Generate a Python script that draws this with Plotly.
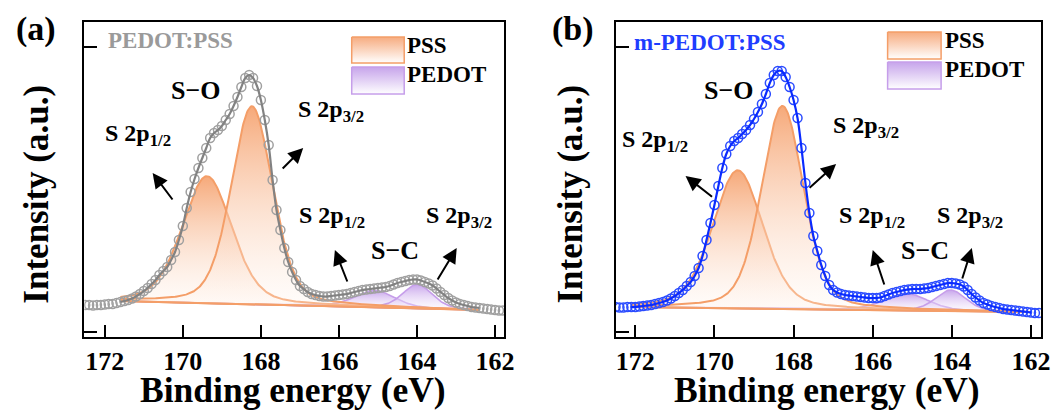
import numpy as np
import plotly.graph_objects as go

W, H = 1059, 413
FONT = "Liberation Serif"

# ---------------- data ----------------
# binding energy of the sampled data points (eV), 172.5 ... 161.8 in 0.1 eV steps
energy = [round(172.5 - 0.1 * i, 1) for i in range(108)]

# (a) PEDOT:PSS measured intensity (a.u.)
intensity_a = [
    27, 27, 26.5, 27, 27, 27.5, 28, 28, 29, 30,
    31, 32, 33.5, 35.5, 38, 41, 44, 48, 52, 57,
    61, 65, 72, 80, 92, 106, 124, 140, 153, 164,
    174, 184, 194, 199, 202, 206, 212, 218, 226, 235,
    245, 254, 257, 254, 246, 232, 212, 187, 152, 122,
    102, 84, 70, 60, 52, 46, 43, 40, 38, 37,
    36, 35.5, 35.5, 36, 36.5, 37, 37.5, 38, 39, 40,
    41, 42, 42.5, 43, 43.5, 44, 44.5, 45, 46, 47.5,
    49, 50, 51, 52, 52.5, 52.5, 51.5, 50, 48.5, 46.5,
    43.5, 40, 37, 34, 31.5, 29.5, 28, 27, 26, 25,
    24.5, 24, 23.5, 23, 22.5, 22, 21.5, 21.5,
]

# (b) m-PEDOT:PSS measured intensity (a.u.)
intensity_b = [
    25, 24.5, 24.5, 25, 25, 25, 25.5, 26, 26.5, 27,
    28, 29, 30, 31.5, 33.5, 36, 39, 42, 46, 50,
    56, 64, 76, 92, 109, 127, 146, 164, 178, 186,
    191, 194, 198, 202, 207, 213, 220, 228, 238, 249,
    257, 261, 261, 255, 245, 232, 214, 184, 149, 119,
    96, 81, 67, 56, 47, 42, 39.5, 38, 37, 36.5,
    36, 35.5, 35, 34.5, 34, 34, 34, 34.5, 36, 37.5,
    39, 40, 41, 42, 42.5, 43, 43, 43, 43.5, 44,
    45, 46, 47, 48, 49, 49, 48.5, 47.5, 45.5, 42,
    38, 34.5, 31.5, 29, 27.5, 26, 25, 24, 23, 22.5,
    22, 21.5, 21, 20.5, 20, 19.5, 19, 19,
]

# fit window and linear background (eV, intensity)
fit_a = [171.6, 162.4]
background_a = [31, 22]
fit_b = [172.1, 162.0]
background_b = [25, 20]

# fitted components: [S 2p3/2, S 2p1/2]
pss_center_a = [168.23, 169.38]
pss_fwhm_a = [1.25, 1.5]
pss_height_a = [198, 127]
pedot_center_a = [163.99, 165.08]
pedot_fwhm_a = [0.9, 1.2]
pedot_height_a = [24, 17]

pss_center_b = [168.28, 169.41]
pss_fwhm_b = [1.25, 1.5]
pss_height_b = [203, 138]
pedot_center_b = [164.03, 165.15]
pedot_fwhm_b = [0.9, 1.3]
pedot_height_b = [21, 17]

lorentz_fraction = 0.3

xticks = [172, 170, 168, 166, 164, 162]


# ---------------- helpers ----------------
def pseudo_voigt(E, c, w, h, m=lorentz_fraction):
    d2 = 4.0 * (E - c) ** 2 / w ** 2
    return h * ((1 - m) * np.exp(-np.log(2) * d2) + m / (1.0 + d2))


def px(x):
    return x / W


def py(y):
    return 1 - y / H


PSS_LINE = "rgb(244,158,104)"
PSS_SCALE = [[0, "rgba(255,246,240,0.25)"], [1, "rgba(244,150,92,0.82)"]]
PEDOT_LINE = "rgb(198,158,234)"
PEDOT_SCALE = [[0, "rgba(248,240,253,0.3)"], [1, "rgba(190,150,232,0.85)"]]

fig = go.Figure()


def add_panel(xa, ya, fit, bg, pss, pedot, inten, circ_col, line_col):
    Eg = np.linspace(fit[0], fit[1], 500)
    base = np.interp(Eg, fit[::-1], bg[::-1])
    comps = []
    for c, w, h in zip(*pss):
        comps.append((c, w, h, PSS_LINE, PSS_SCALE, 2))
    for c, w, h in zip(*pedot):
        comps.append((c, w, h, PEDOT_LINE, PEDOT_SCALE, 1.6))
    for c, w, h, lc, sc, lw in comps[::-1]:
        y = base + pseudo_voigt(Eg, c, w, h)
        fig.add_trace(go.Scatter(
            x=np.concatenate([Eg, Eg[::-1]]),
            y=np.concatenate([y, base[::-1]]),
            mode="lines", fill="toself",
            line=dict(color=lc, width=lw),
            fillgradient=dict(type="vertical", colorscale=sc),
            xaxis=xa, yaxis=ya, showlegend=False, hoverinfo="skip"))
    fig.add_trace(go.Scatter(
        x=energy, y=inten, mode="markers",
        marker=dict(symbol="circle-open", size=9, color=circ_col,
                    line=dict(width=1.5, color=circ_col)),
        xaxis=xa, yaxis=ya, showlegend=False))
    ex = [e for e in energy if fit[1] <= e <= fit[0]]
    ey = [v for e, v in zip(energy, inten) if fit[1] <= e <= fit[0]]
    fig.add_trace(go.Scatter(
        x=ex, y=ey, mode="lines", line=dict(color=line_col, width=2.2, shape="spline"),
        xaxis=xa, yaxis=ya, showlegend=False))


add_panel("x", "y", fit_a, background_a,
          (pss_center_a, pss_fwhm_a, pss_height_a),
          (pedot_center_a, pedot_fwhm_a, pedot_height_a),
          intensity_a, "#a0a0a0", "#828282")
add_panel("x2", "y2", fit_b, background_b,
          (pss_center_b, pss_fwhm_b, pss_height_b),
          (pedot_center_b, pedot_fwhm_b, pedot_height_b),
          intensity_b, "#2b4cff", "#0a2bff")

# legend patches on a pixel canvas (x3/y3)
legend_patches = [
    (347, 400, 29, 55, PSS_LINE, "rgba(246,168,122,0.95)"),
    (347, 400, 59, 86, PEDOT_LINE, "rgba(196,160,234,0.95)"),
    (888, 942, 24, 51, PSS_LINE, "rgba(246,168,122,0.95)"),
    (888, 942, 54, 81, PEDOT_LINE, "rgba(196,160,234,0.95)"),
]
for x0, x1, y0, y1, lc, top in legend_patches:
    fig.add_trace(go.Scatter(
        x=[x0, x1, x1, x0, x0], y=[y0, y0, y1, y1, y0], mode="lines", fill="toself",
        line=dict(color=lc, width=1.5),
        fillgradient=dict(type="vertical", start=y0, stop=y1,
                          colorscale=[[0, top], [1, "rgba(255,255,255,1)"]]),
        xaxis="x3", yaxis="y3", showlegend=False, hoverinfo="skip"))

axis_common = dict(showline=True, linewidth=2, linecolor="black", mirror=True,
                   showgrid=False, zeroline=False, ticks="inside", tickwidth=2,
                   tickcolor="black")
xtick_font = dict(family=FONT, size=26, color="black", weight="bold")

fig.update_layout(
    width=W, height=H, margin=dict(l=0, r=0, t=0, b=0),
    paper_bgcolor="white", plot_bgcolor="rgba(0,0,0,0)",
    xaxis=dict(domain=[px(77), px(501)], range=[172.525, 161.764], anchor="y",
               tickvals=xticks, ticklen=12, tickfont=xtick_font, **axis_common),
    yaxis=dict(domain=[py(329), py(14)], range=[-5, 310], anchor="x",
               tickvals=[0, 285], ticklen=13, showticklabels=False, **axis_common),
    xaxis2=dict(domain=[px(613.3), px(1043.3)], range=[172.50, 161.735], anchor="y2",
                tickvals=xticks, ticklen=12, tickfont=xtick_font, **axis_common),
    yaxis2=dict(domain=[py(329), py(14)], range=[-5, 310], anchor="x2",
                tickvals=[0, 285], ticklen=13, showticklabels=False, **axis_common),
    xaxis3=dict(domain=[0, 1], range=[0, W], visible=False, anchor="y3", fixedrange=True),
    yaxis3=dict(domain=[0, 1], range=[H, 0], visible=False, anchor="x3", fixedrange=True),
)

ann = []


def text(t, x, y, size, color="black", xanchor="center", angle=0, dy=None):
    # compensate for the downward offset of the rendered glyphs
    if dy is None:
        dy = 0.26 * size
    if angle == -90:
        xx, yy = x - dy, y
    else:
        xx, yy = x, y - dy
    ann.append(dict(text=t, x=px(xx), y=py(yy), xref="paper", yref="paper",
                    xanchor=xanchor, yanchor="middle", showarrow=False, textangle=angle,
                    font=dict(family=FONT, size=size, color=color, weight="bold")))


def arrow(tail, head):
    (tx, ty), (hx, hy) = tail, head
    ann.append(dict(text="", x=px(hx), y=py(hy), xref="paper", yref="paper",
                    ax=tx - hx, ay=ty - hy, showarrow=True, arrowhead=2, arrowsize=1.5,
                    arrowwidth=2, arrowcolor="black", standoff=0))


# panel labels, boxes kept inside the figure
for t, cx in (("(a)", 28), ("(b)", 570)):
    ann.append(dict(text=t, x=px(cx), y=1, xref="paper", yref="paper",
                    xanchor="center", yanchor="top", showarrow=False,
                    font=dict(family=FONT, size=34, color="black", weight="bold")))
# axis titles
for cx in (37, 576):
    text("Intensity (a.u.)", cx, 186, 35, angle=-90)
text("Binding energy (eV)", 288, 391, 35.5)
text("Binding energy (eV)", 827, 391, 35.5)
# sample names
text("PEDOT:PSS", 99, 38, 23, color="#9a9a9a", xanchor="left")
text("m-PEDOT:PSS", 630, 40, 23, color="#1f3dff", xanchor="left")
# legend labels
text("PSS", 401, 43, 23, xanchor="left")
text("PEDOT", 401, 72, 23, xanchor="left")
text("PSS", 944, 38, 23, xanchor="left")
text("PEDOT", 944, 67, 23, xanchor="left")
# peak labels panel a
SUBDY = 9
text("S−O", 190, 89, 26)
text("S 2p<sub>1/2</sub>", 131, 136, 24, dy=SUBDY)
text("S 2p<sub>3/2</sub>", 326, 112, 24, dy=SUBDY)
text("S 2p<sub>1/2</sub>", 327, 218, 24, dy=SUBDY)
text("S 2p<sub>3/2</sub>", 455, 218, 24, dy=SUBDY)
text("S−C", 391, 249, 26)
# peak labels panel b
text("S−O", 728, 89, 26)
text("S 2p<sub>1/2</sub>", 653, 142, 24, dy=SUBDY)
text("S 2p<sub>3/2</sub>", 866, 128, 24, dy=SUBDY)
text("S 2p<sub>1/2</sub>", 872, 218, 24, dy=SUBDY)
text("S 2p<sub>3/2</sub>", 971, 218, 24, dy=SUBDY)
text("S−C", 926, 249, 26)

# arrows: (tail, head) in pixels
arrow((167, 193), (146, 165))
arrow((276, 162), (298, 140))
arrow((343, 275), (330, 242))
arrow((433, 273), (453, 240))
arrow((712, 190), (684, 168))
arrow((808, 181), (836, 156))
arrow((885, 278), (873, 242))
arrow((963, 272), (973, 240))

fig.update_layout(annotations=ann)
fig.write_html("out.html")
